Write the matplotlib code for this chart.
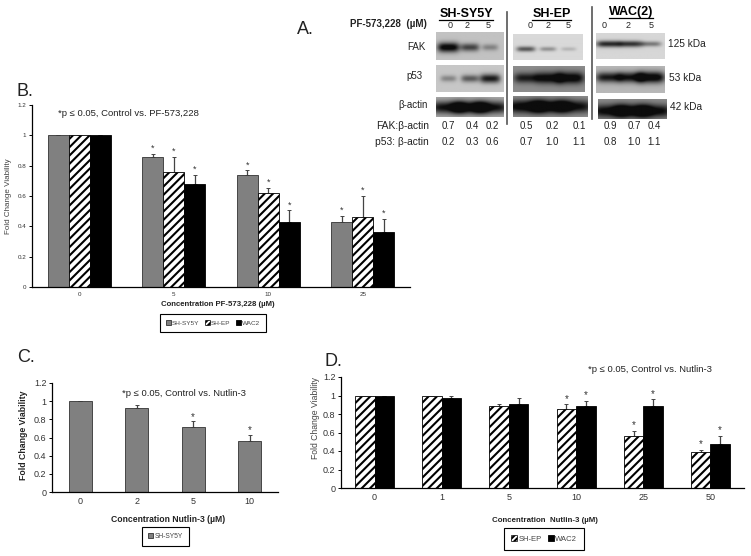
"""Viability bars and western blots, four panels."""
import matplotlib
matplotlib.use('Agg')
import matplotlib.pyplot as plt
import numpy as np

plt.rcParams['font.family'] = ['Liberation Sans', 'DejaVu Sans']
plt.rcParams['hatch.linewidth'] = 1.5

W, H = 751, 556

# panel B
b_labels = ['0', '5', '10', '25']
b_sy5y = [1, 0.86, 0.74, 0.43]
b_sy5y_err = [0, 0.02, 0.03, 0.04]
b_shep = [1, 0.76, 0.62, 0.46]
b_shep_err = [0, 0.10, 0.035, 0.14]
b_wac2 = [1, 0.68, 0.43, 0.36]
b_wac2_err = [0, 0.06, 0.075, 0.09]
b_stars = [False, True, True, True]

# panel C
c_labels = ['0', '2', '5', '10']
c_sy5y = [1, 0.92, 0.72, 0.56]
c_sy5y_err = [0, 0.04, 0.06, 0.07]
c_stars = [False, False, True, True]

# panel D
d_labels = ['0', '1', '5', '10', '25', '50']
d_shep = [1, 0.99, 0.885, 0.855, 0.56, 0.39]
d_shep_err = [0, 0.005, 0.02, 0.05, 0.055, 0.02]
d_wac2 = [1, 0.975, 0.91, 0.885, 0.89, 0.475]
d_wac2_err = [0, 0.015, 0.06, 0.055, 0.07, 0.09]
d_stars = [False, False, False, True, True, True]

# panel A, band darkness per lane (0 to 1)
fak_sy5y = [0.95, 0.6, 0.3]
fak_shep = [0.55, 0.3, 0.15]
fak_wac = [0.75, 0.7, 0.4]
p53_sy5y = [0.3, 0.5, 0.8]
p53_shep = [0.75, 0.95, 1.0]
p53_wac = [0.8, 0.85, 1.0]
actin_sy5y = [0.85, 0.85, 0.85]
actin_shep = [0.95, 0.85, 0.85]
actin_wac = [0.9, 0.9, 0.9]
fak_ratio = ['0.7', '0.4', '0.2', '0.5', '0.2', '0.1', '0.9', '0.7', '0.4']
p53_ratio = ['0.2', '0.3', '0.6', '0.7', '1.0', '1.1', '0.8', '1.0', '1.1']
ratio_x = [448, 472, 492, 526, 552, 579, 610, 634, 654]
dose_labels = ['0', '2', '5'] * 3
dose_x = [450, 467, 488, 530, 548, 568, 604, 628, 651]

fig = plt.figure(figsize=(W / 100, H / 100), dpi=100, facecolor='white')


def px_axes(x0, y0, x1, y1):
    return fig.add_axes([x0 / W, 1 - y1 / H, (x1 - x0) / W, (y1 - y0) / H])


def bar_panel(box, labels, series, stars, fs, star_fs, star_pad):
    ax = px_axes(*box)
    x = np.arange(len(labels))
    n = len(series)
    width = series[0][3]
    for i, (vals, errs, style, _) in enumerate(series):
        pos = x + (i - (n - 1) / 2) * width
        ax.bar(pos, vals, width, **style, zorder=2)
        ax.errorbar(pos, vals, yerr=[np.zeros(len(errs)), errs], fmt='none',
                    ecolor='#444444', elinewidth=0.9, capsize=1.5, capthick=0.7, zorder=1)
        for p, v, e, s in zip(pos, vals, errs, stars):
            if s:
                ax.text(p, v + e + star_pad, '*', ha='center', va='center',
                        fontsize=star_fs, color='#333333')
    ax.set_xlim(-0.5, len(labels) - 0.5)
    ax.set_ylim(0, 1.2)
    ax.set_xticks(x, labels)
    ax.set_yticks([0, 0.2, 0.4, 0.6, 0.8, 1, 1.2], ['0', '0.2', '0.4', '0.6', '0.8', '1', '1.2'])
    ax.tick_params(axis='x', length=0, labelsize=fs, labelcolor='#333333', pad=3.5)
    ax.tick_params(axis='y', length=2, width=0.7, labelsize=fs, labelcolor='#333333', pad=2)
    ax.spines[['top', 'right']].set_visible(False)
    ax.spines[['left', 'bottom']].set_linewidth(0.9)
    ax.patch.set_alpha(0)
    return ax


grey = dict(facecolor='#808080', edgecolor='#333333', linewidth=0.6)
stripe = dict(facecolor='white', edgecolor='black', hatch='////', linewidth=0.6)
solid = dict(facecolor='black', edgecolor='black', linewidth=0.6)

bar_panel((32, 105, 410, 287), b_labels,
          [(b_sy5y, b_sy5y_err, grey, 0.222), (b_shep, b_shep_err, stripe, 0.222),
           (b_wac2, b_wac2_err, solid, 0.222)], b_stars, 4.5, 6.5, 0.035)
bar_panel((52, 383, 278, 492), c_labels,
          [(c_sy5y, c_sy5y_err, grey, 0.41)], c_stars, 6.5, 7, 0.05)
bar_panel((341, 377, 744, 488), d_labels,
          [(d_shep, d_shep_err, stripe, 0.29), (d_wac2, d_wac2_err, solid, 0.29)],
          d_stars, 6.5, 7, 0.06)


def blot(box, darkness, bg, band_y, band_h, band_w, lanes):
    ax = px_axes(*box)
    yy, xx = np.mgrid[0:1:50j, 0:1:70j]
    img = np.full(xx.shape, bg, dtype=float)
    for lane, d in zip(lanes, darkness):
        w = band_w * (0.7 + 0.5 * d)
        h = band_h * (0.6 + 0.6 * d)
        img -= d * bg * 1.1 * np.exp(-((xx - lane) / w) ** 4 - ((yy - band_y) / h) ** 2)
    ax.imshow(np.clip(img, 0.05, 1), cmap='gray', vmin=0, vmax=1, aspect='auto',
              interpolation='bilinear')
    ax.axis('off')


lanes = [0.18, 0.5, 0.8]
# FAK row
blot((436, 32, 504, 60), fak_sy5y, 0.76, 0.55, 0.15, 0.14, lanes)
blot((513, 34, 583, 60), fak_shep, 0.85, 0.58, 0.11, 0.14, lanes)
blot((596, 33, 665, 59), fak_wac, 0.84, 0.42, 0.12, 0.17, lanes)
# p53 row
blot((436, 65, 504, 92), p53_sy5y, 0.78, 0.52, 0.15, 0.14, lanes)
blot((513, 66, 585, 92), p53_shep, 0.55, 0.48, 0.18, 0.16, lanes)
blot((596, 66, 665, 93), p53_wac, 0.72, 0.44, 0.17, 0.17, lanes)
# actin row
blot((436, 97, 504, 117), actin_sy5y, 0.68, 0.52, 0.28, 0.24, lanes)
blot((513, 96, 588, 117), actin_shep, 0.58, 0.5, 0.28, 0.24, lanes)
blot((598, 99, 667, 119), actin_wac, 0.55, 0.6, 0.28, 0.24, lanes)

# overlay in pixel coordinates for all the labels
ov = fig.add_axes([0, 0, 1, 1], zorder=5)
ov.set_xlim(0, W)
ov.set_ylim(H, 0)
ov.axis('off')


def txt(x, y, s, size=7, ha='center', **kw):
    kw.setdefault('color', '#222222')
    return ov.text(x, y, s, fontsize=size, ha=ha, va='center', **kw)


ov.plot([507, 507], [12, 124], color='#555555', lw=1.2)
ov.plot([592, 592], [7, 119], color='#555555', lw=1.2)

txt(297, 29, 'A.', 13, ha='left')
txt(17, 92, 'B.', 13, ha='left')
txt(17, 358, 'C.', 13, ha='left')
txt(325, 361, 'D.', 13, ha='left')

txt(350, 24, 'PF-573,228  (µM)', 7, ha='left', fontweight='bold')
for name, cx, cy in zip(['SH-SY5Y', 'SH-EP', 'WAC(2)'], [466, 552, 631], [14, 14, 12]):
    txt(cx, cy, name, 9, fontweight='bold', color='black')
for x0, x1, y in [(439, 493, 20), (532, 571, 20), (609, 653, 18)]:
    ov.plot([x0, x1], [y, y], color='black', lw=0.9)
for d, x in zip(dose_labels, dose_x):
    txt(x, 26, d, 6.5)
txt(426, 47, 'FAK', 7, ha='right')
txt(423, 76, 'p53', 7, ha='right')
txt(428, 105, 'β-actin', 7, ha='right')
txt(429, 126, 'FAK:β-actin', 7.4, ha='right')
txt(429, 142, 'p53: β-actin', 7.4, ha='right')
for r, x in zip(fak_ratio, ratio_x):
    txt(x, 126, r, 7)
for r, x in zip(p53_ratio, ratio_x):
    txt(x, 142, r, 7)
txt(668, 44, '125 kDa', 7.3, ha='left')
txt(669, 78, '53 kDa', 7.3, ha='left')
txt(670, 107, '42 kDa', 7.3, ha='left')

txt(58, 114, '*p ≤ 0.05, Control vs. PF-573,228', 6.8, ha='left')
txt(122, 393, '*p ≤ 0.05, Control vs. Nutlin-3', 6.8, ha='left')
txt(588, 369, '*p ≤ 0.05, Control vs. Nutlin-3', 6.8, ha='left')

txt(218, 305, 'Concentration PF-573,228 (µM)', 5.6, fontweight='bold')
txt(168, 520, 'Concentration Nutlin-3 (µM)', 6.2, fontweight='bold')
txt(545, 520, 'Concentration  Nutlin-3 (µM)', 5.7, fontweight='bold')
txt(9, 196, 'Fold Change Viability', 5.8, rotation=90, color='#444444')
txt(24, 435, 'Fold Change Viability', 6.3, rotation=90, fontweight='bold')
txt(315, 418, 'Fold Change Viability', 6.2, rotation=90, color='#444444')


def legend_box(x0, y0, x1, y1, names, styles, fs):
    handles = [plt.Rectangle((0, 0), 1, 1, **s) for s in styles]
    leg = ov.legend(handles, names, loc='center', fontsize=fs, ncol=len(names),
                    bbox_to_anchor=((x0 + x1) / 2 / W, 1 - (y0 + y1) / 2 / H),
                    bbox_transform=fig.transFigure, fancybox=False, edgecolor='black',
                    framealpha=1, handlelength=0.8, handleheight=0.8, handletextpad=0.2,
                    columnspacing=0.8, borderpad=0.9, borderaxespad=0, labelcolor='#444444')
    leg.get_frame().set_linewidth(0.8)
    return leg


hs = dict(facecolor='white', edgecolor='black', hatch='//////', linewidth=0.5)
l1 = legend_box(160, 313, 266, 333, ['SH-SY5Y', 'SH-EP', 'WAC2'], [grey, hs, solid], 4.6)
ov.add_artist(l1)
l2 = legend_box(141, 527, 190, 545, ['SH-SY5Y'], [grey], 4.8)
ov.add_artist(l2)
legend_box(507, 529, 581, 549, ['SH-EP', 'WAC2'], [hs, solid], 5.5)

fig.savefig('out.png', dpi=100)
